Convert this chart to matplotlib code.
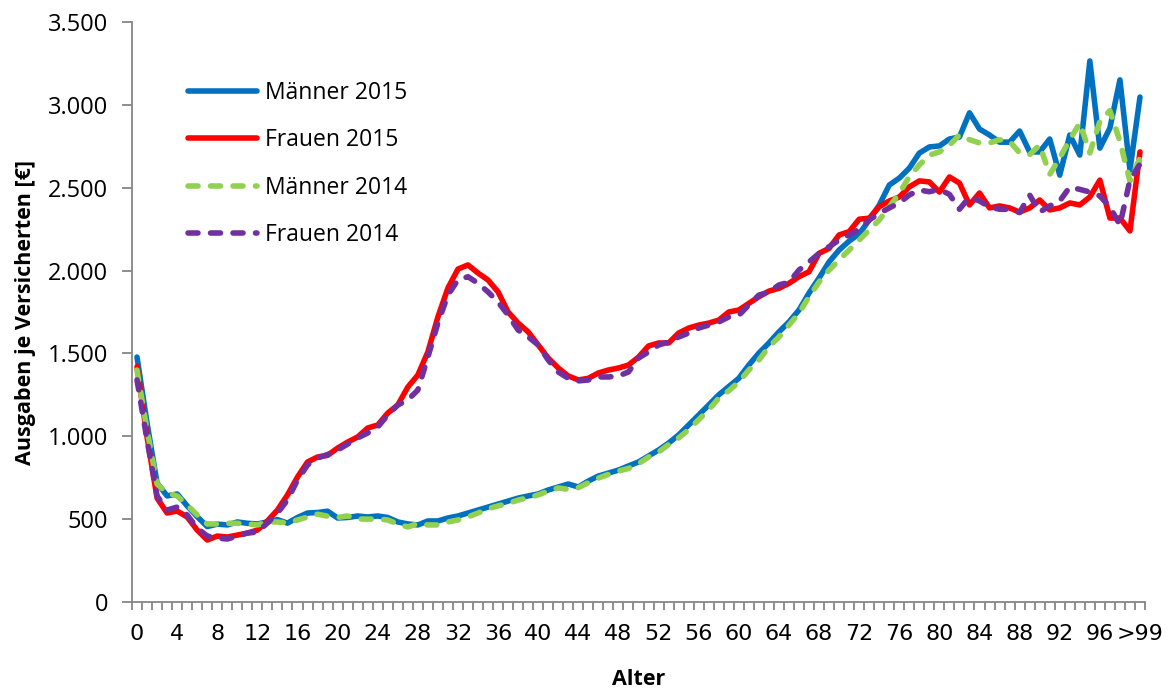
import numpy as np
import matplotlib
matplotlib.use("Agg")
import matplotlib.pyplot as plt
from matplotlib.ticker import FuncFormatter, FixedLocator

# --- DATA ---
alter = np.arange(0, 101)
alter_labels = [str(a) for a in range(0, 100, 4)] + [">99"]

maenner_2015 = [
    1478, 1080, 718, 640, 652, 580, 515, 455, 470, 465, 483, 475, 471, 483, 497, 476, 510, 537, 540, 548,
    507, 510, 519, 513, 519, 510, 483, 471, 465, 489, 489, 507, 519, 537, 555, 573, 591, 609, 627, 640,
    652, 676, 694, 712, 694, 730, 760, 778, 796, 821, 845, 881, 917, 959, 1008, 1068, 1128, 1189, 1250, 1300,
    1350, 1430, 1502, 1563, 1630, 1690, 1762, 1864, 1955, 2052, 2124, 2178, 2221, 2305, 2395, 2516, 2558, 2618, 2709, 2746,
    2752, 2794, 2806, 2952, 2854, 2818, 2775, 2775, 2842, 2716, 2716, 2794, 2576, 2818, 2697, 3265, 2739, 2860, 3151, 2607, 3047,
]
frauen_2015 = [
    1420, 996, 627, 537, 549, 513, 434, 374, 398, 392, 404, 416, 434, 489, 555, 646, 754, 845, 875, 885,
    929, 965, 996, 1050, 1068, 1140, 1189, 1297, 1370, 1509, 1720, 1895, 2009, 2034, 1985, 1943, 1871, 1750, 1683, 1630,
    1551, 1472, 1412, 1364, 1340, 1350, 1382, 1400, 1412, 1430, 1478, 1545, 1563, 1563, 1623, 1653, 1671, 1683, 1701, 1750,
    1762, 1802, 1842, 1876, 1893, 1923, 1963, 1993, 2104, 2134, 2215, 2235, 2310, 2316, 2385, 2420, 2444, 2505, 2541, 2535,
    2474, 2565, 2528, 2396, 2468, 2378, 2390, 2378, 2353, 2378, 2426, 2366, 2378, 2408, 2396, 2444, 2546, 2317, 2317, 2239, 2716,
]
maenner_2014 = [
    1400, 1038, 712, 657, 640, 585, 525, 471, 471, 475, 475, 471, 465, 483, 483, 477, 495, 513, 530, 518,
    510, 519, 501, 500, 501, 495, 471, 453, 473, 465, 465, 483, 495, 513, 537, 563, 580, 595, 615, 630,
    646, 670, 688, 680, 690, 720, 748, 770, 790, 806, 835, 875, 905, 950, 990, 1040, 1100, 1160, 1230, 1275,
    1328, 1400, 1460, 1539, 1599, 1671, 1744, 1842, 1931, 2003, 2064, 2124, 2184, 2245, 2305, 2385, 2466, 2567, 2637, 2697,
    2716, 2757, 2818, 2790, 2770, 2770, 2790, 2780, 2710, 2700, 2757, 2580, 2680, 2790, 2890, 2710, 2900, 2965, 2780, 2540, 2680,
]
frauen_2014 = [
    1340, 978, 640, 555, 573, 525, 446, 398, 386, 380, 398, 416, 422, 477, 537, 615, 736, 827, 869, 890,
    917, 953, 990, 1020, 1056, 1128, 1189, 1219, 1279, 1478, 1683, 1853, 1943, 1963, 1923, 1871, 1810, 1731, 1641, 1600,
    1551, 1460, 1388, 1350, 1334, 1340, 1358, 1358, 1364, 1388, 1472, 1509, 1551, 1569, 1599, 1623, 1653, 1671, 1690, 1720,
    1730, 1792, 1852, 1870, 1913, 1930, 2003, 2052, 2104, 2144, 2184, 2215, 2250, 2305, 2345, 2378, 2408, 2456, 2486, 2476,
    2490, 2460, 2370, 2444, 2420, 2384, 2370, 2370, 2350, 2456, 2353, 2390, 2420, 2504, 2490, 2474, 2450, 2384, 2275, 2546, 2643,
]

plt.rcParams['font.family'] = ['Open Sans', 'DejaVu Sans']

fig = plt.figure(figsize=(11.7, 6.91), dpi=100)
ax = fig.add_axes([132 / 1170, 1 - 602 / 691, 1013 / 1170, 580 / 691])

lw = 4
dash = (1.8, 2.25)
ax.plot(alter, maenner_2015, color='#0070C0', lw=lw, label='Männer 2015',
        solid_joinstyle='round', solid_capstyle='round')
ax.plot(alter, frauen_2015, color='#FF0000', lw=lw, label='Frauen 2015',
        solid_joinstyle='round', solid_capstyle='round')
ax.plot(alter, maenner_2014, color='#92D050', lw=lw, label='Männer 2014',
        dashes=dash, dash_capstyle='round')
ax.plot(alter, frauen_2014, color='#7030A0', lw=lw, label='Frauen 2014',
        dashes=dash, dash_capstyle='round')

ax.set_xlim(-0.5, 100.5)
ax.set_ylim(0, 3500)

for s in ['top', 'right']:
    ax.spines[s].set_visible(False)
for s in ['left', 'bottom']:
    ax.spines[s].set_color('#868686')
    ax.spines[s].set_linewidth(1.3)

ax.yaxis.set_major_locator(FixedLocator(np.arange(0, 3501, 500)))
ax.yaxis.set_major_formatter(FuncFormatter(lambda v, p: f"{int(v):,}".replace(",", ".")))
ax.tick_params(axis='y', length=7, width=1.3, color='#868686', labelsize=17, pad=10)

ax.set_xticks(np.arange(0, 101, 4))
ax.set_xticklabels(alter_labels, family=['Liberation Sans Narrow', 'DejaVu Sans'])
ax.set_xticks(np.arange(-0.5, 101, 1), minor=True)
ax.tick_params(axis='x', which='major', length=0, labelsize=16, pad=16)
ax.tick_params(axis='x', which='minor', length=6, width=1.3, color='#868686')

ax.set_xlabel('Alter', fontsize=15.5, fontweight='bold', labelpad=18)
ax.set_ylabel('Ausgaben je Versicherten [€]', fontsize=15.5, fontweight='bold', labelpad=9)

ax.legend(loc='upper left', bbox_to_anchor=(0.035, 0.934), frameon=False, fontsize=16.5,
          handlelength=3.0, handletextpad=0.35, labelspacing=1.02)

fig.savefig('out.png', dpi=100)
